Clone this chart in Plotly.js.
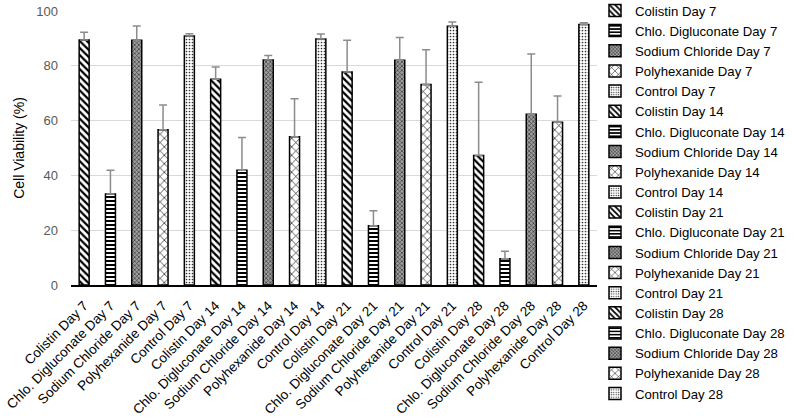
<!DOCTYPE html>
<html>
<head>
<meta charset="utf-8">
<script src="https://cdn.plot.ly/plotly-3.0.1.min.js"></script>
<style>html,body{margin:0;padding:0;background:#fff}#chart{width:793px;height:419px}</style>
</head>
<body>
<div id="chart"></div>
<script>
const categories = [
  "Colistin Day 7","Chlo. Digluconate Day 7","Sodium Chloride Day 7","Polyhexanide Day 7","Control Day 7",
  "Colistin Day 14","Chlo. Digluconate Day 14","Sodium Chloride Day 14","Polyhexanide Day 14","Control Day 14",
  "Colistin Day 21","Chlo. Digluconate Day 21","Sodium Chloride Day 21","Polyhexanide Day 21","Control Day 21",
  "Colistin Day 28","Chlo. Digluconate Day 28","Sodium Chloride Day 28","Polyhexanide Day 28","Control Day 28"
];
const treatments = ["Colistin","Chlo","Sodium","Polyhex","Control","Colistin","Chlo","Sodium","Polyhex","Control",
  "Colistin","Chlo","Sodium","Polyhex","Control","Colistin","Chlo","Sodium","Polyhex","Control"];
const viability = [89.4,33.2,89.3,56.7,90.9, 75.1,41.9,82.1,54.1,89.8, 77.7,21.6,82.0,73.2,94.4, 47.3,9.6,62.3,59.4,95.1];
const errorPlus = [2.8,8.7,5.2,9.0,0.8, 4.5,11.9,1.7,13.9,1.8, 11.6,5.5,8.3,12.7,1.6, 26.7,2.7,22.0,9.6,0.6];
const yTicks = [0,20,40,60,80,100];

const patterns = {
  Colistin: {shape:"\\", fgcolor:"#000", bgcolor:"#fff", size:5, solidity:0.45},
  Chlo: {shape:"-", fgcolor:"#000", bgcolor:"#fff", size:4, solidity:0.5},
  Sodium: {shape:"x", fgcolor:"#333", bgcolor:"#a0a0a0", size:3, solidity:0.4},
  Polyhex: {shape:"x", fgcolor:"#000", bgcolor:"#fff", size:6, solidity:0.2},
  Control: {shape:".", fgcolor:"#333", bgcolor:"#fff", size:3, solidity:0.25}
};

const traces = categories.map((c,i)=>({
  type:"bar", x:[c], y:[viability[i]], name:c, width:0.38,
  marker:{color:"#fff", pattern:patterns[treatments[i]], line:{color:"#000", width:1.5}},
  error_y:{type:"data", symmetric:false, array:[errorPlus[i]], arrayminus:[0], color:"#8c8c8c", thickness:1.5, width:4},
  hoverinfo:"x+y"
}));

const layout = {
  width:793, height:419,
  margin:{l:71, r:196, t:11, b:134, autoexpand:false},
  paper_bgcolor:"#fff", plot_bgcolor:"#fff",
  barmode:"overlay",
  font:{family:"Liberation Sans, Arial, sans-serif", size:13, color:"#000"},
  xaxis:{type:"category", categoryorder:"array", categoryarray:categories, tickangle:-45,
    showline:true, linecolor:"#000", linewidth:1.5, ticks:"", showgrid:false, ticklabelstandoff:6,
    tickfont:{size:13.5, color:"#000"}, fixedrange:true},
  yaxis:{range:[0,100], tickvals:yTicks, showgrid:true, gridcolor:"#d9d9d9", gridwidth:1,
    zeroline:false, showline:false, tickfont:{size:13, color:"#595959"}, ticklabelstandoff:12,
    title:{text:"Cell Viability (%)", font:{size:14, color:"#000"}, standoff:8}, fixedrange:true},
  legend:{x:0.9962, xanchor:"left", y:1.057, yanchor:"top", font:{size:13.2, color:"#000"},
    traceorder:"normal", bgcolor:"rgba(0,0,0,0)", itemwidth:30, maxheight:430},
  showlegend:true
};

Plotly.newPlot("chart", traces, layout, {displayModeBar:false, staticPlot:true});
</script>
</body>
</html>
